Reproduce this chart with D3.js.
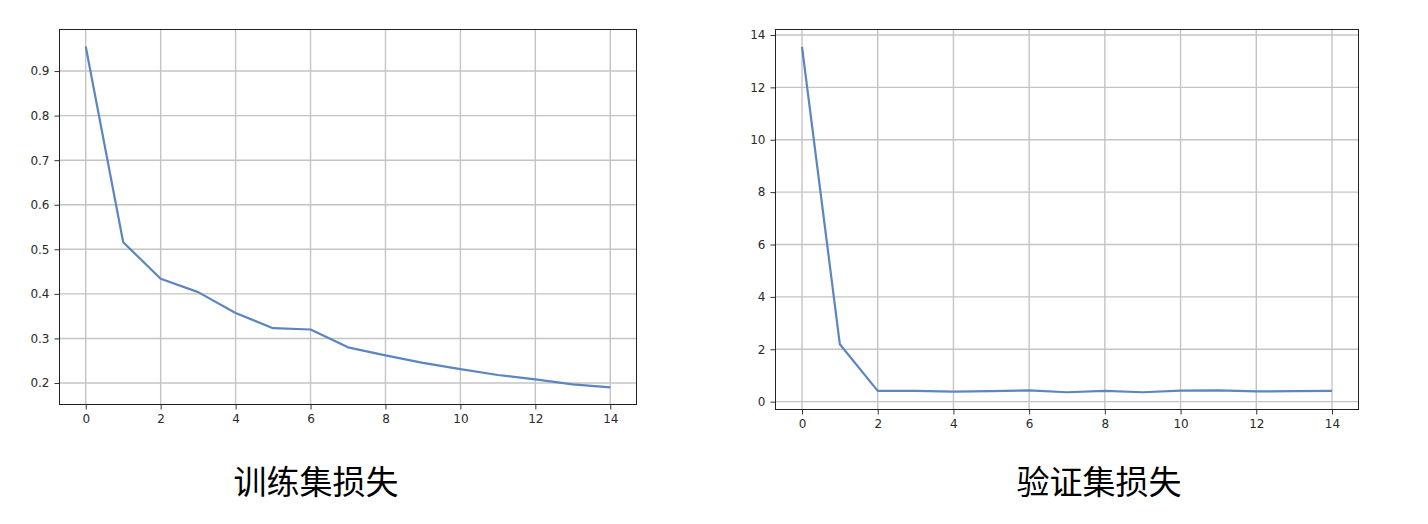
<!DOCTYPE html>
<html>
<head>
<meta charset="utf-8">
<script src="https://cdn.jsdelivr.net/npm/d3@7"></script>
<style>
  body { margin: 0; background: #fff; }
  svg { display: block; }
  .tick text { font-family: "DejaVu Sans", sans-serif; font-size: 12px; fill: #2a2a2a; }
  .title { font-family: "Noto Sans CJK SC", sans-serif; font-size: 33px; fill: #000; }
</style>
</head>
<body>
<script>
// epochs and losses
var epochs = [0, 1, 2, 3, 4, 5, 6, 7, 8, 9, 10, 11, 12, 13, 14];
var trainLoss = [0.955, 0.516, 0.434, 0.404, 0.357, 0.323, 0.320, 0.280, 0.262, 0.245, 0.231, 0.218, 0.208, 0.197, 0.190];
var valLoss = [13.55, 2.19, 0.41, 0.41, 0.38, 0.40, 0.43, 0.36, 0.41, 0.36, 0.42, 0.43, 0.39, 0.40, 0.41];
var xTicks = [0, 2, 4, 6, 8, 10, 12, 14];
var trainTicks = [0.2, 0.3, 0.4, 0.5, 0.6, 0.7, 0.8, 0.9];
var valTicks = [0, 2, 4, 6, 8, 10, 12, 14];
var titles = ["训练集损失", "验证集损失"];

var width = 1428, height = 524;
var svg = d3.select("body").append("svg")
  .attr("width", width)
  .attr("height", height);

//one panel per loss series
var panels = [
  {box: [59.5, 29.5, 636.5, 404.5], values: trainLoss, ticks: trainTicks, fmt: d3.format(".1f"), title: titles[0], titleX: 316},
  {box: [775.5, 29.5, 1358.5, 409.5], values: valLoss, ticks: valTicks, fmt: d3.format("d"), title: titles[1], titleX: 1099}
];

panels.forEach(function(p){
  var x0 = p.box[0], y0 = p.box[1], x1 = p.box[2], y1 = p.box[3];
  //matplotlib style 5% margins
  var xmin = d3.min(epochs), xmax = d3.max(epochs), xm = (xmax - xmin) * 0.05;
  var ymin = d3.min(p.values), ymax = d3.max(p.values), ym = (ymax - ymin) * 0.05;

  var x = d3.scaleLinear().domain([xmin - xm, xmax + xm]).range([x0, x1]);
  var y = d3.scaleLinear().domain([ymin - ym, ymax + ym]).range([y1, y0]);

  var g = svg.append("g");

  //grid
  g.append("g").selectAll("line.vg")
    .data(xTicks).enter().append("line")
    .attr("x1", function(d){ return x(d); })
    .attr("x2", function(d){ return x(d); })
    .attr("y1", y0).attr("y2", y1)
    .attr("stroke", "#c4c4c4").attr("stroke-width", 1.4);
  g.append("g").selectAll("line.hg")
    .data(p.ticks).enter().append("line")
    .attr("y1", function(d){ return y(d); })
    .attr("y2", function(d){ return y(d); })
    .attr("x1", x0).attr("x2", x1)
    .attr("stroke", "#c4c4c4").attr("stroke-width", 1.4);

  //axes
  var xAxis = d3.axisBottom(x).tickValues(xTicks).tickSize(5).tickPadding(5);
  var yAxis = d3.axisLeft(y).tickValues(p.ticks).tickSize(5).tickPadding(5).tickFormat(p.fmt);

  var gx = g.append("g").attr("transform", "translate(0," + y1 + ")").call(xAxis);
  var gy = g.append("g").attr("transform", "translate(" + x0 + ",0)").call(yAxis);
  [gx, gy].forEach(function(a){
    a.select(".domain").remove();
    a.selectAll(".tick line").attr("stroke", "#333");
  });

  //line
  var line = d3.line()
    .x(function(d, i){ return x(epochs[i]); })
    .y(function(d){ return y(d); });
  g.append("path")
    .datum(p.values)
    .attr("d", line)
    .attr("fill", "none")
    .attr("stroke", "#5b86bf")
    .attr("stroke-width", 2.2)
    .attr("stroke-linejoin", "round");

  //frame
  g.append("rect")
    .attr("x", x0).attr("y", y0)
    .attr("width", x1 - x0).attr("height", y1 - y0)
    .attr("fill", "none")
    .attr("stroke", "#222")
    .attr("stroke-width", 1);

  //caption under the panel
  svg.append("text")
    .attr("class", "title")
    .attr("x", p.titleX)
    .attr("y", 494)
    .attr("text-anchor", "middle")
    .text(p.title);
});
</script>
</body>
</html>
